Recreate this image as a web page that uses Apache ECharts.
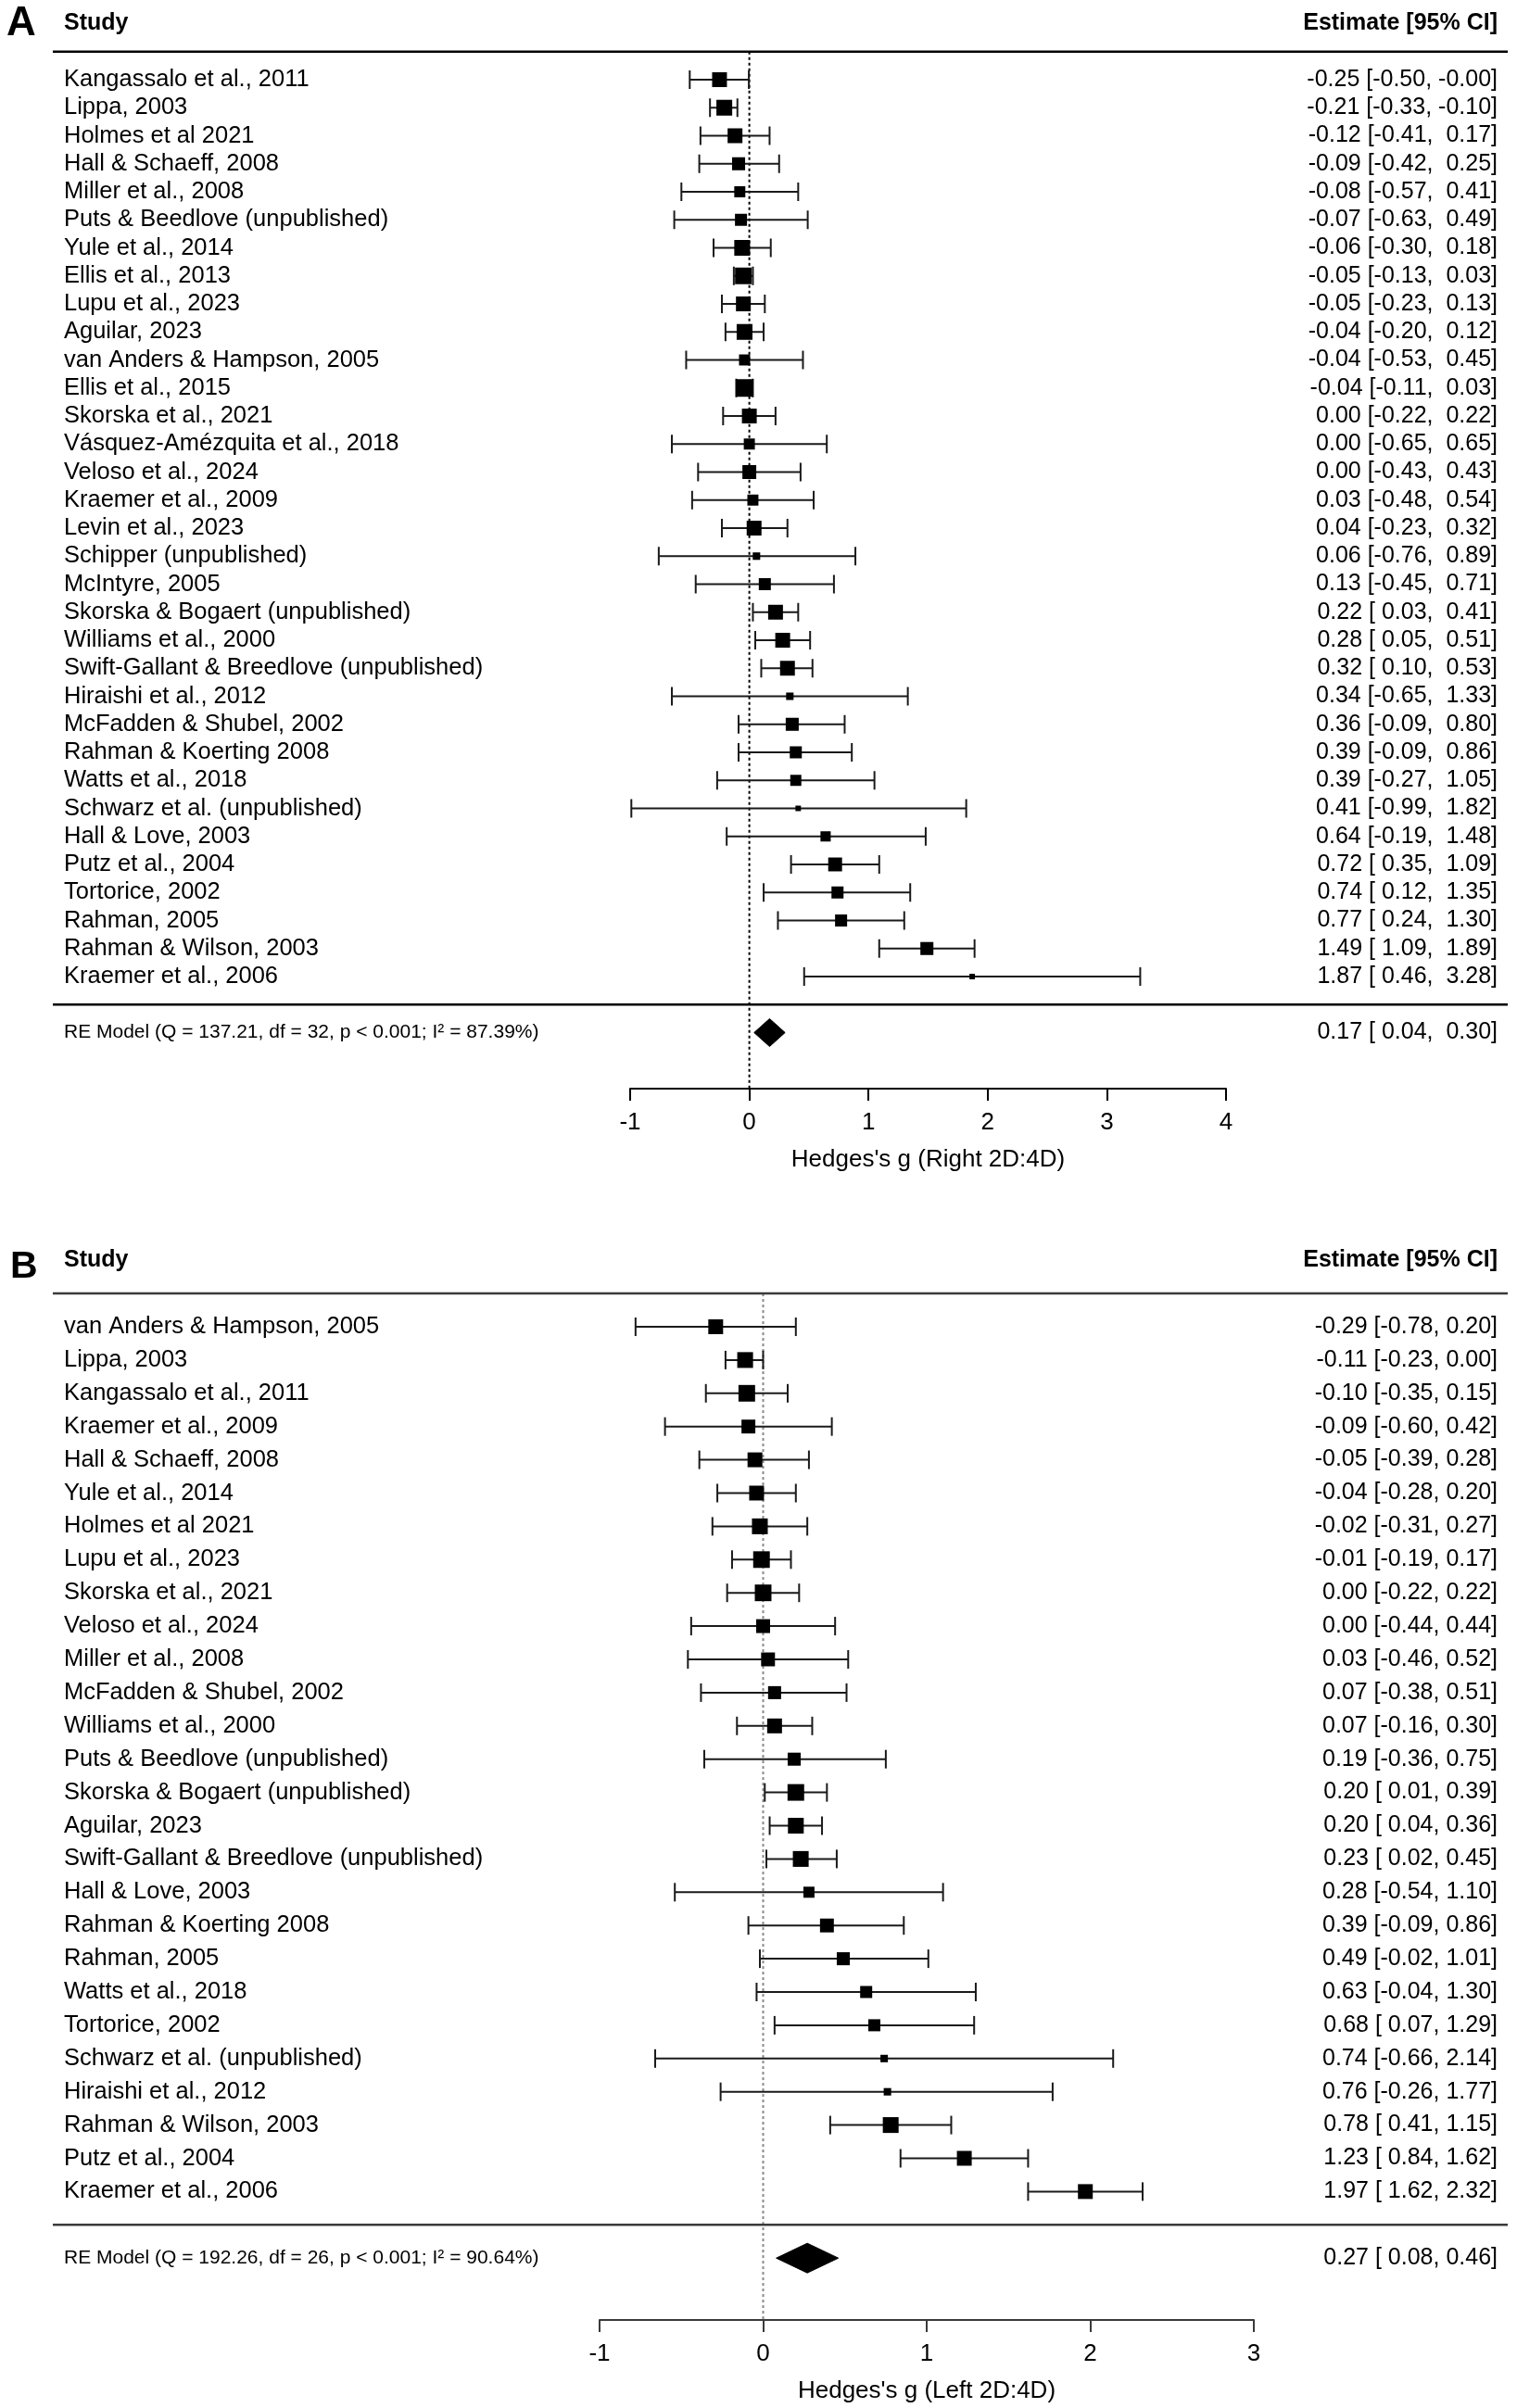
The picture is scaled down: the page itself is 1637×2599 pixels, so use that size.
<!DOCTYPE html>
<html>
<head>
<meta charset="utf-8">
<script src="https://cdn.jsdelivr.net/npm/echarts@6/dist/echarts.min.js"></script>
<style>
html,body{margin:0;padding:0;background:#ffffff;}
#chart{width:1637px;height:2599px;}
</style>
</head>
<body>
<div id="chart"></div>
<script>
// ---------------- Panel A (Right 2D:4D) ----------------
const studiesA = [
  "Kangassalo et al., 2011", "Lippa, 2003", "Holmes et al 2021", "Hall & Schaeff, 2008",
  "Miller et al., 2008", "Puts & Beedlove (unpublished)", "Yule et al., 2014", "Ellis et al., 2013",
  "Lupu et al., 2023", "Aguilar, 2023", "van Anders & Hampson, 2005", "Ellis et al., 2015",
  "Skorska et al., 2021", "Vásquez-Amézquita et al., 2018", "Veloso et al., 2024", "Kraemer et al., 2009",
  "Levin et al., 2023", "Schipper (unpublished)", "McIntyre, 2005", "Skorska & Bogaert (unpublished)",
  "Williams et al., 2000", "Swift-Gallant & Breedlove (unpublished)", "Hiraishi et al., 2012", "McFadden & Shubel, 2002",
  "Rahman & Koerting 2008", "Watts et al., 2018", "Schwarz et al. (unpublished)", "Hall & Love, 2003",
  "Putz et al., 2004", "Tortorice, 2002", "Rahman, 2005", "Rahman & Wilson, 2003", "Kraemer et al., 2006"
];
const estA  = [-0.25,-0.21,-0.12,-0.09,-0.08,-0.07,-0.06,-0.05,-0.05,-0.04,-0.04,-0.04,0.00,0.00,0.00,0.03,0.04,0.06,0.13,0.22,0.28,0.32,0.34,0.36,0.39,0.39,0.41,0.64,0.72,0.74,0.77,1.49,1.87];
const lowA  = [-0.50,-0.33,-0.41,-0.42,-0.57,-0.63,-0.30,-0.13,-0.23,-0.20,-0.53,-0.11,-0.22,-0.65,-0.43,-0.48,-0.23,-0.76,-0.45,0.03,0.05,0.10,-0.65,-0.09,-0.09,-0.27,-0.99,-0.19,0.35,0.12,0.24,1.09,0.46];
const highA = [-0.004,-0.10,0.17,0.25,0.41,0.49,0.18,0.03,0.13,0.12,0.45,0.03,0.22,0.65,0.43,0.54,0.32,0.89,0.71,0.41,0.51,0.53,1.33,0.80,0.86,1.05,1.82,1.48,1.09,1.35,1.30,1.89,3.28];
// relative study weights (0..1, as shown by square size)
const weightA = [0.80,0.87,0.80,0.67,0.53,0.60,0.87,0.93,0.80,0.87,0.53,1.00,0.80,0.53,0.73,0.53,0.80,0.27,0.60,0.80,0.80,0.80,0.27,0.67,0.60,0.53,0.13,0.47,0.73,0.60,0.60,0.67,0.13];
const summaryA = [0.17, 0.04, 0.30];
const modelLabelA = "RE Model (Q = 137.21, df = 32, p < 0.001; I\u00B2 = 87.39%)";
const ticksA = [-1, 0, 1, 2, 3, 4];
const axisTitleA = "Hedges's g (Right 2D:4D)";

// ---------------- Panel B (Left 2D:4D) ----------------
const studiesB = [
  "van Anders & Hampson, 2005", "Lippa, 2003", "Kangassalo et al., 2011", "Kraemer et al., 2009",
  "Hall & Schaeff, 2008", "Yule et al., 2014", "Holmes et al 2021", "Lupu et al., 2023",
  "Skorska et al., 2021", "Veloso et al., 2024", "Miller et al., 2008", "McFadden & Shubel, 2002",
  "Williams et al., 2000", "Puts & Beedlove (unpublished)", "Skorska & Bogaert (unpublished)", "Aguilar, 2023",
  "Swift-Gallant & Breedlove (unpublished)", "Hall & Love, 2003", "Rahman & Koerting 2008", "Rahman, 2005",
  "Watts et al., 2018", "Tortorice, 2002", "Schwarz et al. (unpublished)", "Hiraishi et al., 2012",
  "Rahman & Wilson, 2003", "Putz et al., 2004", "Kraemer et al., 2006"
];
const estB  = [-0.29,-0.11,-0.10,-0.09,-0.05,-0.04,-0.02,-0.01,0.00,0.00,0.03,0.07,0.07,0.19,0.20,0.20,0.23,0.28,0.39,0.49,0.63,0.68,0.74,0.76,0.78,1.23,1.97];
const lowB  = [-0.78,-0.23,-0.35,-0.60,-0.39,-0.28,-0.31,-0.19,-0.22,-0.44,-0.46,-0.38,-0.16,-0.36,0.01,0.04,0.02,-0.54,-0.09,-0.02,-0.04,0.07,-0.66,-0.26,0.41,0.84,1.62];
const highB = [0.20,0.00,0.15,0.42,0.28,0.20,0.27,0.17,0.22,0.44,0.52,0.51,0.30,0.75,0.39,0.36,0.45,1.10,0.86,1.01,1.30,1.29,2.14,1.77,1.15,1.62,2.32];
const weightB = [0.80,0.87,0.93,0.73,0.80,0.80,0.87,0.93,0.93,0.73,0.73,0.67,0.80,0.67,0.93,0.87,0.87,0.53,0.73,0.67,0.60,0.60,0.27,0.27,0.87,0.80,0.80];
const summaryB = [0.27, 0.08, 0.46];
const modelLabelB = "RE Model (Q = 192.26, df = 26, p < 0.001; I\u00B2 = 90.64%)";
const ticksB = [-1, 0, 1, 2, 3];
const axisTitleB = "Hedges's g (Left 2D:4D)";

// ---------------- build ----------------
const FONT = "'Liberation Sans', Arial, Helvetica, sans-serif";

function fmt(v){ return v.toFixed(2); }
function padTo(s, n){ while (s.length < n) s = ' ' + s; return s; }
function ciLabels(est, lo, hi, summary){
  const allLo = lo.concat([summary[1]]).map(fmt);
  const allHi = hi.concat([summary[2]]).map(fmt);
  const wl = Math.max(...allLo.map(s => s.length));
  const wh = Math.max(...allHi.map(s => s.length));
  const allEst = est.concat([summary[0]]).map(fmt);
  return allEst.map((e, i) => e + ' [' + padTo(allLo[i], wl) + ', ' + padTo(allHi[i], wh) + ']');
}

const chart = echarts.init(document.getElementById('chart'), null, {renderer: 'canvas'});

function buildPanel(p, cfg){
  const k = cfg.names.length;
  const estText = ciLabels(cfg.est, cfg.lo, cfg.hi, cfg.summary);
  const isRow = v => Math.abs(v - Math.round(v)) < 1e-6;
  const grid = {
    left: cfg.left, width: cfg.width, top: cfg.top, height: cfg.height,
    containLabel: false, outerBoundsMode: 'none'
  };
  const xAxis = {
    type: 'value', gridIndex: p, min: cfg.ticks[0], max: cfg.ticks[cfg.ticks.length - 1], interval: 1,
    position: 'bottom',
    axisLine: {show: true, onZero: false, lineStyle: {color: cfg.lineColor, width: 2}},
    axisTick: {show: true, length: 13, lineStyle: {color: cfg.lineColor, width: 2}},
    axisLabel: {color: '#000', fontSize: 26, fontFamily: FONT, margin: 24},
    splitLine: {show: false},
    name: cfg.title, nameLocation: 'middle', nameGap: 64,
    nameTextStyle: {color: '#000', fontSize: 26, fontFamily: FONT}
  };
  const yCommon = {
    type: 'value', gridIndex: p, min: -2, max: cfg.ymax, interval: 1, inverse: true,
    axisLine: {show: false, onZero: false}, axisTick: {show: false}, splitLine: {show: false}
  };
  const yLeft = Object.assign({}, yCommon, {
    position: 'left',
    axisLabel: {
      margin: cfg.leftMargin, align: 'left', color: '#000', fontSize: 25.5, fontFamily: FONT,
      formatter: v => {
        if (!isRow(v)) return '';
        const r = Math.round(v);
        if (r === -2) return '{h|Study}';
        if (r >= 0 && r < k) return cfg.names[r];
        if (r === k + 1) return '{m|' + cfg.model + '}';
        return '';
      },
      rich: {
        h: {fontSize: 25, fontWeight: 'bold', fontFamily: FONT, color: '#000'},
        m: {fontSize: 21, fontFamily: FONT, color: '#000'}
      }
    }
  });
  const yRight = Object.assign({}, yCommon, {
    position: 'right',
    axisLabel: {
      margin: cfg.rightMargin, align: 'right', color: '#000', fontSize: 25, fontFamily: FONT,
      formatter: v => {
        if (!isRow(v)) return '';
        const r = Math.round(v);
        if (r === -2) return '{h|Estimate [95% CI]}';
        if (r >= 0 && r < k) return estText[r];
        if (r === k + 1) return estText[k];
        return '';
      },
      rich: {
        h: {fontSize: 25, fontWeight: 'bold', fontFamily: FONT, color: '#000'}
      }
    }
  });

  const xi = p, yi = 2 * p;
  const series = [];
  // dotted reference line at 0
  series.push({
    type: 'custom', xAxisIndex: xi, yAxisIndex: yi, clip: false, silent: true, z: 1,
    data: [[0, -1, cfg.ymax]],
    encode: {x: 0, y: 1},
    renderItem: (params, api) => {
      const a = api.coord([api.value(0), api.value(1)]);
      const b = api.coord([api.value(0), api.value(2)]);
      return {type: 'line', shape: {x1: a[0], y1: a[1], x2: b[0], y2: b[1]},
        style: {stroke: cfg.refColor, lineWidth: 2, lineDash: [3, 3]}};
    }
  });
  // horizontal rules (below header, above summary)
  series.push({
    type: 'custom', xAxisIndex: xi, yAxisIndex: yi, clip: false, silent: true, z: 2,
    data: [[0, -1], [0, k]],
    encode: {x: 0, y: 1},
    renderItem: (params, api) => {
      const y = api.coord([0, api.value(1)])[1];
      return {type: 'line', shape: {x1: 57, y1: y, x2: 1627, y2: y},
        style: {stroke: cfg.lineColor, lineWidth: 2.5}};
    }
  });
  // study estimates with CIs
  series.push({
    type: 'custom', xAxisIndex: xi, yAxisIndex: yi, clip: false, z: 3,
    data: cfg.est.map((e, i) => [e, cfg.lo[i], cfg.hi[i], i, cfg.w[i]]),
    encode: {x: [0, 1, 2], y: 3},
    renderItem: (params, api) => {
      const row = api.value(3);
      const pm = api.coord([api.value(0), row]);
      const pl = api.coord([api.value(1), row]);
      const ph = api.coord([api.value(2), row]);
      const y = pm[1];
      const s = 4 + 15 * api.value(4);
      const st = {stroke: '#1a1a1a', lineWidth: 2};
      return {type: 'group', children: [
        {type: 'line', shape: {x1: pl[0], y1: y, x2: ph[0], y2: y}, style: st},
        {type: 'line', shape: {x1: pl[0], y1: y - 10, x2: pl[0], y2: y + 10}, style: st},
        {type: 'line', shape: {x1: ph[0], y1: y - 10, x2: ph[0], y2: y + 10}, style: st},
        {type: 'rect', shape: {x: pm[0] - s / 2, y: y - s / 2, width: s, height: s}, style: {fill: '#000'}}
      ]};
    }
  });
  // summary diamond
  series.push({
    type: 'custom', xAxisIndex: xi, yAxisIndex: yi, clip: false, z: 3,
    data: [[cfg.summary[0], cfg.summary[1], cfg.summary[2], k + 1]],
    encode: {x: [0, 1, 2], y: 3},
    renderItem: (params, api) => {
      const row = api.value(3);
      const c = api.coord([api.value(0), row]);
      const l = api.coord([api.value(1), row]);
      const r = api.coord([api.value(2), row]);
      const h = cfg.diamondHalf;
      return {type: 'polygon', shape: {points: [[l[0], c[1]], [c[0], c[1] - h], [r[0], c[1]], [c[0], c[1] + h]]},
        style: {fill: '#000', stroke: '#000', lineWidth: 1}};
    }
  });
  return {grid, xAxis, yAxes: [yLeft, yRight], series};
}

const rowA = 30.25, firstA = 86;
const rowB = 35.9, firstB = 1432;
const panelA = buildPanel(0, {
  names: studiesA, est: estA, lo: lowA, hi: highA, w: weightA, summary: summaryA,
  model: modelLabelA, ticks: ticksA, title: axisTitleA,
  left: 680, width: 643, top: firstA - 2 * rowA, height: 38 * rowA, ymax: 36,
  leftMargin: 611, rightMargin: 293, lineColor: '#000', refColor: '#000', diamondHalf: 15
});
const ymaxB = 29.86;
const panelB = buildPanel(1, {
  names: studiesB, est: estB, lo: lowB, hi: highB, w: weightB, summary: summaryB,
  model: modelLabelB, ticks: ticksB, title: axisTitleB,
  left: 647, width: 706, top: firstB - 2 * rowB, height: (ymaxB + 2) * rowB, ymax: ymaxB,
  leftMargin: 578, rightMargin: 263, lineColor: '#3a3a3a', refColor: '#888', diamondHalf: 16
});

chart.setOption({
  animation: false,
  backgroundColor: '#ffffff',
  textStyle: {fontFamily: FONT},
  title: [
    {text: 'A', left: 7, top: 4, padding: 0, textStyle: {fontSize: 44, fontWeight: 'bold', color: '#000', fontFamily: FONT}},
    {text: 'B', left: 11, top: 1347, padding: 0, textStyle: {fontSize: 41, fontWeight: 'bold', color: '#000', fontFamily: FONT}}
  ],
  grid: [panelA.grid, panelB.grid],
  xAxis: [panelA.xAxis, panelB.xAxis],
  yAxis: panelA.yAxes.concat(panelB.yAxes),
  series: panelA.series.concat(panelB.series)
});
</script>
</body>
</html>
